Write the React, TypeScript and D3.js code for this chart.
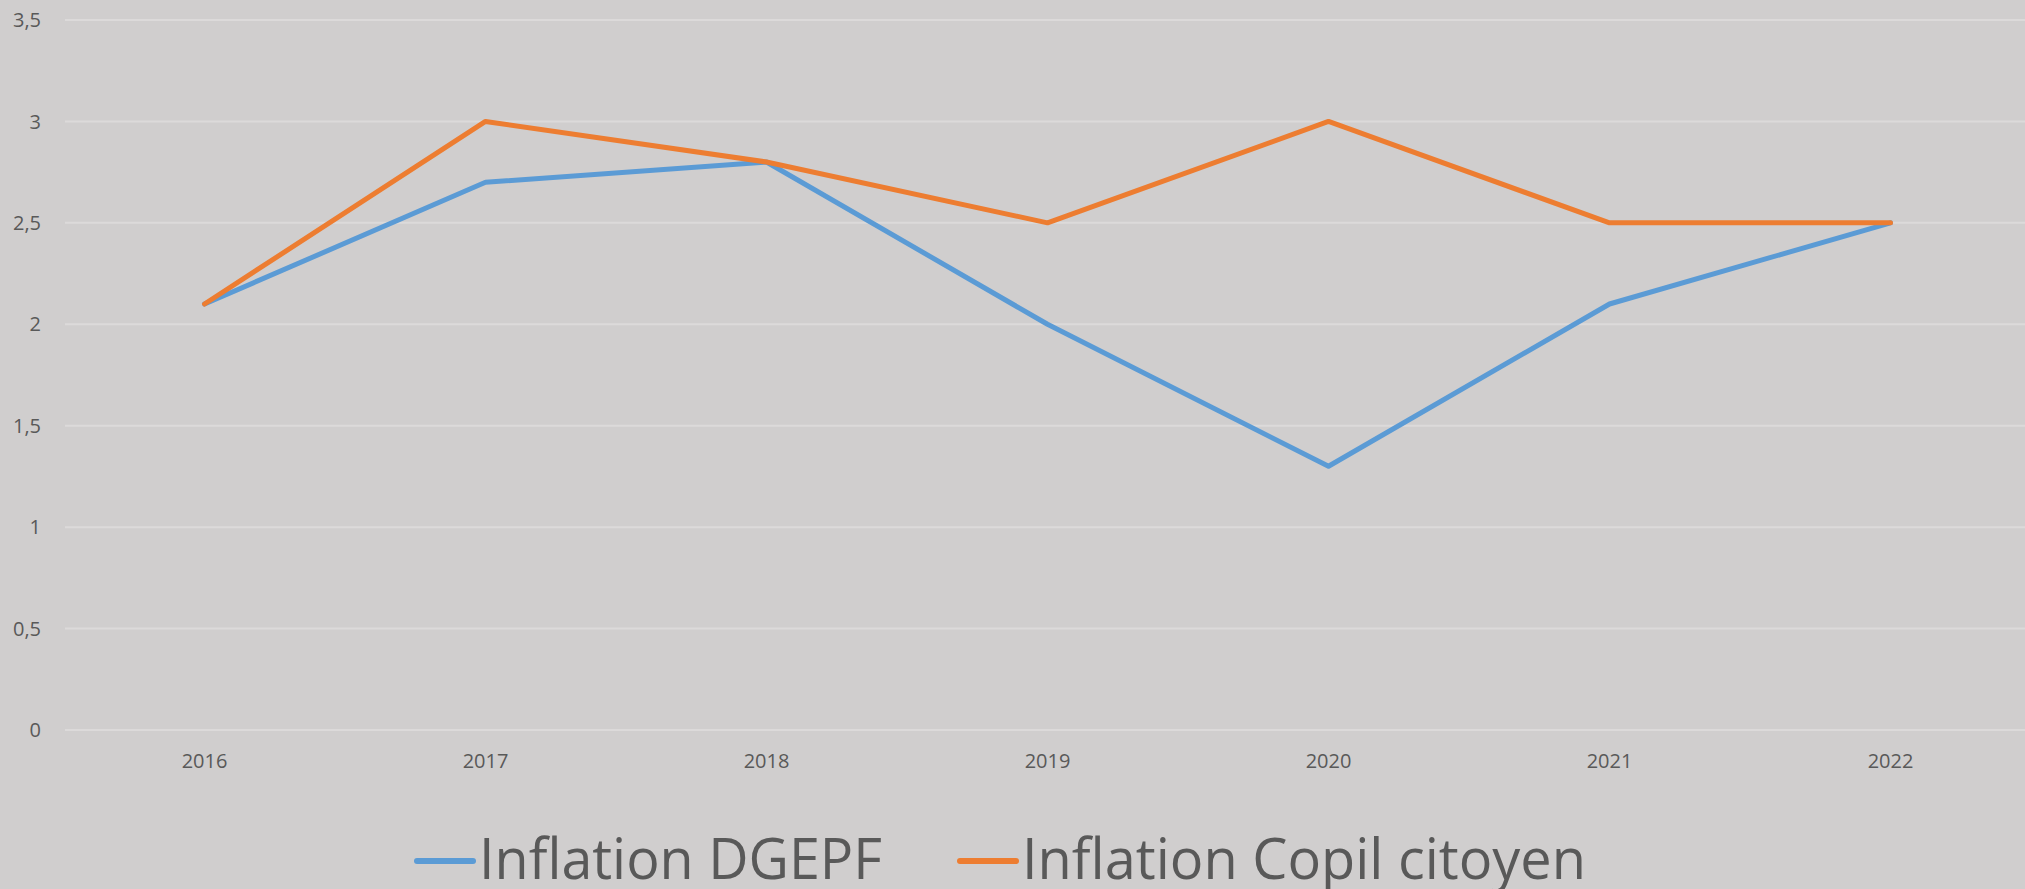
import React from "react";
import * as d3 from "d3";

const years = ["2016", "2017", "2018", "2019", "2020", "2021", "2022"];
const dgepf = [2.1, 2.7, 2.8, 2.0, 1.3, 2.1, 2.5];
const copil = [2.1, 3.0, 2.8, 2.5, 3.0, 2.5, 2.5];
const yTicks = [0, 0.5, 1, 1.5, 2, 2.5, 3, 3.5];
const seriesNames = ["Inflation DGEPF", "Inflation Copil citoyen"];
const seriesColors = ["#5B9BD5", "#ED7D31"];

const W = 2025;
const H = 889;

export default function App() {
  const x = d3.scaleBand<string>().domain(years).range([64, 2031]);
  const y = d3.scaleLinear().domain([0, 3.5]).range([730, 20]);
  const cx = (d: string) => (x(d) as number) + x.bandwidth() / 2;
  const line = d3
    .line<number>()
    .x((_, i) => cx(years[i]))
    .y((v) => y(v));
  const font = "'Open Sans', 'Noto Sans', sans-serif";
  const series = [dgepf, copil];
  const legend = [
    { lx1: 417, lx2: 473, tx: 479, tw: 403 },
    { lx1: 960, lx2: 1016, tx: 1022, tw: 564 },
  ];
  return (
    <svg
      width={W}
      height={H}
      style={{ position: "absolute", left: 0, top: 0, display: "block" }}
    >
      <rect x={0} y={0} width={W} height={H} fill="#D0CECE" />
      {yTicks.map((t) => (
        <g key={t}>
          <line x1={65} x2={W} y1={y(t)} y2={y(t)} stroke="#DCDADA" strokeWidth={2} />
          <text
            x={41}
            y={y(t)}
            dy="0.36em"
            textAnchor="end"
            fontFamily={font}
            fontSize={20}
            fill="#595959"
          >
            {String(t).replace(".", ",")}
          </text>
        </g>
      ))}
      {years.map((yr) => (
        <text
          key={yr}
          x={cx(yr)}
          y={768}
          textAnchor="middle"
          fontFamily={font}
          fontSize={20}
          fill="#595959"
        >
          {yr}
        </text>
      ))}
      {series.map((s, i) => (
        <path
          key={i}
          d={line(s) || ""}
          fill="none"
          stroke={seriesColors[i]}
          strokeWidth={5}
          strokeLinecap="round"
          strokeLinejoin="round"
        />
      ))}
      {legend.map((l, i) => (
        <g key={i}>
          <line
            x1={l.lx1}
            x2={l.lx2}
            y1={861}
            y2={861}
            stroke={seriesColors[i]}
            strokeWidth={6}
            strokeLinecap="round"
          />
          <text
            x={l.tx}
            y={879}
            fontFamily={font}
            fontSize={56}
            fill="#595959"
            textLength={l.tw}
            lengthAdjust="spacingAndGlyphs"
          >
            {seriesNames[i]}
          </text>
        </g>
      ))}
    </svg>
  );
}
